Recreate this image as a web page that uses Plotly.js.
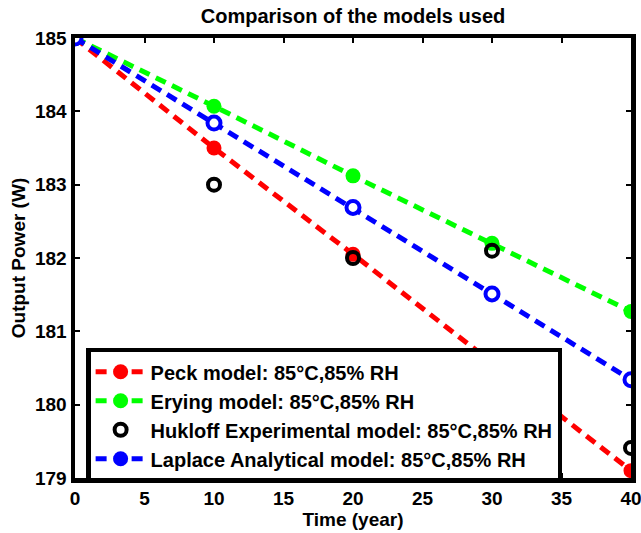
<!DOCTYPE html>
<html>
<head>
<meta charset="utf-8">
<script src="https://cdn.plot.ly/plotly-3.0.1.min.js"></script>
<style>html,body{margin:0;padding:0;background:#fff;}#chart{width:641px;height:533px;}</style>
</head>
<body>
<div id="chart"></div>
<script>
const years = [0, 10, 20, 30, 40];
const peck = [185, 183.5, 182.05, 180.58, 179.1];
const erying = [185, 184.07, 183.12, 182.2, 181.27];
const hukloff = [185, 183.0, 182.0, 182.1, 179.41];
const laplace = [185, 183.84, 182.69, 181.51, 180.34];
const names = [
  'Peck model: 85°C,85% RH',
  'Erying model: 85°C,85% RH',
  'Hukloff Experimental model: 85°C,85% RH',
  'Laplace Analytical model: 85°C,85% RH'
];
const xTicks = [0, 5, 10, 15, 20, 25, 30, 35, 40];
const yTicks = [179, 180, 181, 182, 183, 184, 185];

const dash = '11px,7px';
const traces = [
  {x: years, y: peck, name: names[0], mode: 'lines+markers',
   line: {color: '#ff0000', width: 5, dash: dash},
   marker: {color: '#ff0000', size: 15, symbol: 'circle'}},
  {x: years, y: erying, name: names[1], mode: 'lines+markers',
   line: {color: '#00ff00', width: 5, dash: dash},
   marker: {color: '#00ff00', size: 15, symbol: 'circle'}},
  {x: years, y: hukloff, name: names[2], mode: 'markers',
   marker: {color: '#000000', size: 12, symbol: 'circle-open', line: {width: 4, color: '#000000'}}},
  {x: years, y: laplace, name: names[3], mode: 'lines+markers', showlegend: false,
   line: {color: '#0000ff', width: 5, dash: dash},
   marker: {color: '#ffffff', size: 13, symbol: 'circle', line: {width: 4, color: '#0000ff'}}},
  {x: [null], y: [null], name: names[3], mode: 'lines+markers',
   line: {color: '#0000ff', width: 5, dash: dash},
   marker: {color: '#0000ff', size: 15, symbol: 'circle'}}
];

const font = {family: '"Liberation Sans", Arial, sans-serif', color: '#000', weight: 'bold'};
const layout = {
  width: 641, height: 533,
  margin: {l: 75, r: 10, t: 38, b: 55},
  paper_bgcolor: '#fff', plot_bgcolor: '#fff',
  font: Object.assign({}, font, {size: 19}),
  title: {text: 'Comparison of the models used', xref: 'paper', x: 0.5, xanchor: 'center', y: 0.97, yanchor: 'middle',
          font: Object.assign({}, font, {size: 20})},
  xaxis: {range: [0, 40], tickvals: xTicks, ticktext: xTicks.map(String),
          showgrid: false, zeroline: false, showline: true, linewidth: 4.5, linecolor: '#000',
          mirror: 'ticks', ticks: 'inside', ticklen: 5, tickwidth: 2, tickcolor: '#000',
          ticklabeloverflow: 'allow',
          tickfont: Object.assign({}, font, {size: 19}),
          title: {text: 'Time (year)', standoff: 2, font: Object.assign({}, font, {size: 19})}},
  yaxis: {range: [179, 185], tickvals: yTicks, ticktext: yTicks.map(String),
          showgrid: false, zeroline: false, showline: true, linewidth: 4.5, linecolor: '#000',
          mirror: 'ticks', ticks: 'inside', ticklen: 5, tickwidth: 2, tickcolor: '#000',
          ticklabeloverflow: 'allow',
          tickfont: Object.assign({}, font, {size: 19}),
          title: {text: 'Output Power (W)', standoff: 6, font: Object.assign({}, font, {size: 19})}},
  legend: {x: 0.02, y: 0.296, xanchor: 'left', yanchor: 'top',
           bgcolor: '#fff', bordercolor: '#000', borderwidth: 4.5,
           itemwidth: 50, tracegroupgap: 0,
           font: Object.assign({}, font, {size: 20})},
  showlegend: true
};
Plotly.newPlot('chart', traces, layout, {displayModeBar: false, staticPlot: true});
</script>
</body>
</html>
